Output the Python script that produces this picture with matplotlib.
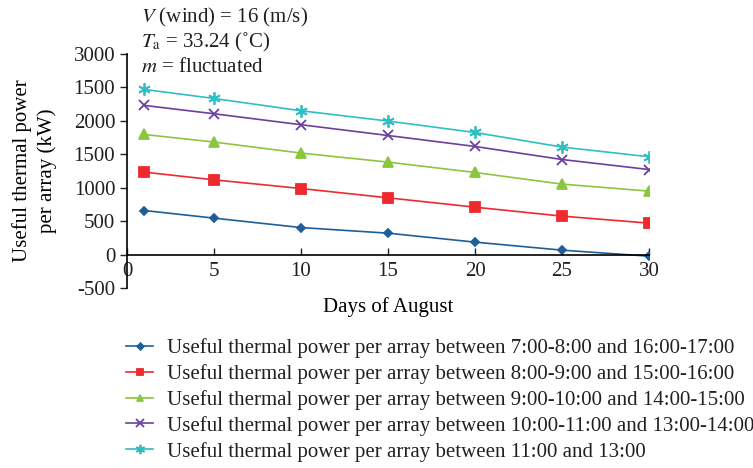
import matplotlib
matplotlib.use('Agg')
import matplotlib.pyplot as plt

plt.rcParams['font.family'] = ['Liberation Serif', 'DejaVu Serif']
plt.rcParams['mathtext.fontset'] = 'stix'
plt.rcParams['text.color'] = '#231f20'

days = [1, 5, 10, 15, 20, 25, 30]

power_7_8 = [659, 545, 404, 320, 186, 66, -24]
power_8_9 = [1233, 1118, 988, 849, 709, 575, 470]
power_9_10 = [1796, 1683, 1518, 1383, 1228, 1054, 949]
power_10_11 = [2231, 2106, 1942, 1781, 1617, 1422, 1272]
power_11_13 = [2470, 2335, 2151, 1997, 1826, 1608, 1463]

labels = [
    'Useful thermal power per array between 7:00-8:00 and 16:00-17:00',
    'Useful thermal power per array between 8:00-9:00 and 15:00-16:00',
    'Useful thermal power per array between 9:00-10:00 and 14:00-15:00',
    'Useful thermal power per array between 10:00-11:00 and 13:00-14:00',
    'Useful thermal power per array between 11:00 and 13:00',
]

y_ticks = [-500, 0, 500, 1000, 1500, 2000, 2500, 3000]
# the source figure really labels the 2500 tick as "1500"
y_tick_labels = ['-500', '0', '500', '1000', '1500', '2000', '1500', '3000']
x_ticks = [0, 5, 10, 15, 20, 25, 30]

colors = ['#1f5f99', '#ee2a2f', '#8cc540', '#6b3fa0', '#2fbfc2']
markers = ['D', 's', '^', 'x', (6, 2, 0)]
sizes = [4.5, 6.5, 6.5, 7, 9]

fig = plt.figure(figsize=(7.53, 4.68), dpi=100)
ax = fig.add_axes([127 / 753, 1 - 288 / 468, 522 / 753, 234 / 468])

series = [power_7_8, power_8_9, power_9_10, power_10_11, power_11_13]
for values, label, color, marker, ms in zip(series, labels, colors, markers, sizes):
    ax.plot(days, values, color=color, marker=marker, markersize=ms, lw=1.2,
            markeredgewidth=1.3, label=label)

ax.set_xlim(0, 30)
ax.set_ylim(-500, 3000)
ax.set_xticks(x_ticks)
ax.set_yticks(y_ticks)
ax.set_yticklabels(y_tick_labels)

ax.spines['top'].set_visible(False)
ax.spines['right'].set_visible(False)
ax.spines['bottom'].set_position(('data', 0))
ax.spines['left'].set_linewidth(1.2)
ax.spines['bottom'].set_linewidth(1.2)
ax.tick_params(axis='y', direction='out', length=5, width=1, labelsize=15, colors='#231f20')
ax.tick_params(axis='x', direction='in', length=5, width=1, labelsize=15, pad=5, colors='#231f20')

ax.set_xlabel('Days of August', fontsize=15)
ax.xaxis.set_label_coords(0.5, -0.04)
ax.set_ylabel('Useful thermal power\nper array (kW)', fontsize=15, linespacing=1.35)
ax.yaxis.set_label_coords(-0.135, 0.5)

fig.text(141 / 753, 1 - 17 / 468, r'$V$ (wind) = 16 (m/s)', fontsize=15, va='center')
fig.text(141 / 753, 1 - 42 / 468, r'$T_{\mathrm{a}}$ = 33.24 (˚C)', fontsize=15, va='center')
fig.text(141 / 753, 1 - 68 / 468, r'$m$ = fluctuated', fontsize=15, va='center')

fig.legend(loc='upper left', bbox_to_anchor=(126 / 753, 1 - 338 / 468), frameon=False,
           fontsize=15, handlelength=1.3, handletextpad=0.67, labelspacing=0.29,
           markerscale=0.75, borderaxespad=0, borderpad=0)

fig.savefig('out.png', dpi=100)
